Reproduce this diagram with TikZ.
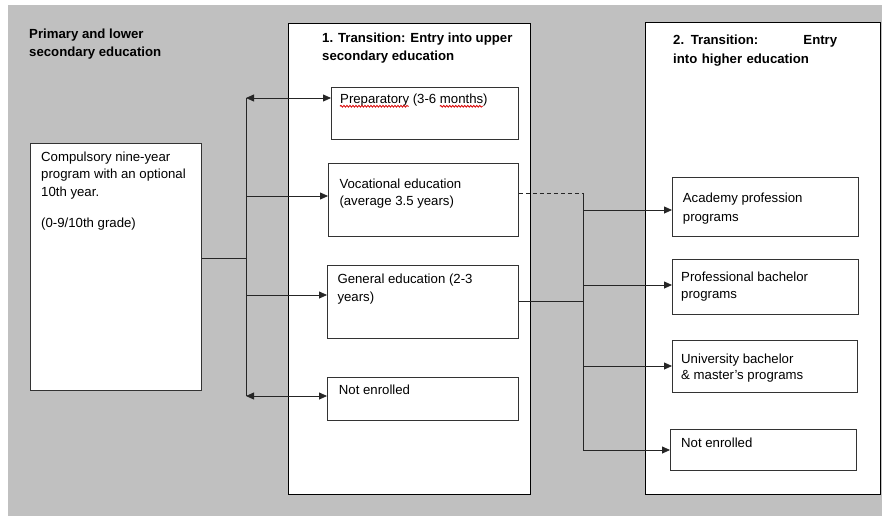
\documentclass[tikz,border=0pt]{standalone}
\usepackage{fontspec}
\setmainfont{Liberation Sans}
\usetikzlibrary{arrows.meta,decorations.pathmorphing}
\definecolor{bggray}{HTML}{C0C0C0}
\newlength\wordA
\newlength\wordB
\newlength\wordC
\newcommand\bodyfont{\fontsize{13.2}{17.5}\selectfont}
\begin{document}
\settowidth\wordA{\bodyfont Preparatory}%
\settowidth\wordB{\bodyfont Preparatory (3-6 months}%
\settowidth\wordC{\bodyfont months}%
\begin{tikzpicture}[x=1pt,y=-1pt,
  frame/.style={draw=black, line width=1pt, fill=white, anchor=north west, inner sep=0pt},
  box/.style={draw=black!80, line width=0.8pt, fill=white, anchor=north west, inner sep=0pt},
  txt/.style={anchor=north west, inner sep=0pt, align=left, font=\bodyfont},
  ttl/.style={anchor=north west, inner sep=0pt, align=left, font=\bfseries\fontsize{13.2}{18.5}\selectfont},
  conn/.style={draw=black!85, line width=0.8pt},
  arr/.style={conn, -{Triangle[length=8pt,width=7pt]}},
  darr/.style={conn, {Triangle[length=8pt,width=7pt]}-{Triangle[length=8pt,width=7pt]}},
  squig/.style={draw=red!85!black, line width=0.8pt, decorate, decoration={snake, amplitude=0.9pt, segment length=3pt}}
]
\useasboundingbox (0,0) rectangle (882,516);
\fill[bggray] (8,5) rectangle (882,516);

% big frames
\node[frame, minimum width=242pt, minimum height=471pt] (mid) at (288,23) {};
\node[frame, minimum width=235pt, minimum height=472pt] (right) at (645,22) {};

% boxes
\node[box, minimum width=171pt, minimum height=247pt] (comp) at (30,143) {};
\node[box, minimum width=187pt, minimum height=52pt] (prep) at (331,87) {};
\node[box, minimum width=190pt, minimum height=73pt] (voc) at (328,163) {};
\node[box, minimum width=191pt, minimum height=73pt] (gen) at (327,265) {};
\node[box, minimum width=191pt, minimum height=43pt] (ne1) at (327,377) {};
\node[box, minimum width=186pt, minimum height=59pt] (acad) at (672,177) {};
\node[box, minimum width=186pt, minimum height=55pt] (prof) at (672,259) {};
\node[box, minimum width=185pt, minimum height=52pt] (univ) at (672,340) {};
\node[box, minimum width=186pt, minimum height=41pt] (ne2) at (670,429) {};

% titles
\node[ttl] (t0) at (29,28.4) {Primary and lower\\secondary education};
\node[ttl] (t1) at (322,32.3) {1. Transition: Entry into upper\\secondary education};
\node[ttl, text width=164pt] (t2) at (673,35) {2. Transition:\hfill Entry\\into higher education};

% texts
\node[txt] (tcomp) at (41,151.5) {Compulsory nine-year\\program with an optional\\10th year.\\[14pt](0-9/10th grade)};
\node[txt] (tprep) at (340,93.5) {Preparatory (3-6 months)};
\node[txt] (tvoc) at (339.3,178.3) {Vocational education\\(average 3.5 years)};
\node[txt] (tgen) at (337.3,274) {General education (2-3\\years)};
\node[txt] (tne1) at (338.7,385) {Not enrolled};
\node[txt, font=\fontsize{13.2}{19}\selectfont] (tacad) at (682.7,192.3) {Academy profession\\programs};
\node[txt] (tprof) at (681,271.7) {Professional bachelor\\programs};
\node[txt, font=\fontsize{13.2}{16}\selectfont] (tuniv) at (681,353.3) {University bachelor\\\& master’s programs};
\node[txt] (tne2) at (681,437.3) {Not enrolled};

% spell-check squiggles
\draw[squig] ([yshift=-3pt]tprep.base west) -- ++(\wordA,0pt);
\draw[squig] ([yshift=-3pt,xshift=\wordB-\wordC]tprep.base west) -- ++(\wordC,0pt);

% left connectors
\coordinate (jL) at (246,258);
\coordinate (tLa) at (246,98);
\coordinate (tLb) at (246,196);
\coordinate (tLc) at (246,295);
\coordinate (tLd) at (246,396);
\draw[conn] (comp.east |- jL) -- (jL);
\draw[conn] (tLa) -- (tLd);
\draw[darr] (tLa) -- (prep.west |- tLa);
\draw[arr] (tLb) -- (voc.west |- tLb);
\draw[arr] (tLc) -- (gen.west |- tLc);
\draw[darr] (tLd) -- (ne1.west |- tLd);

% right connectors
\coordinate (rA) at (583,193);
\coordinate (rB) at (583,210);
\coordinate (rC) at (583,285);
\coordinate (rJ) at (583,301);
\coordinate (rD) at (583,366);
\coordinate (rE) at (583,450);
\draw[conn, dash pattern=on 4pt off 3pt] (voc.east |- rA) -- (rA);
\draw[conn] (rA) -- (rE);
\draw[conn] (gen.east |- rJ) -- (rJ);
\draw[arr] (rB) -- (acad.west |- rB);
\draw[arr] (rC) -- (prof.west |- rC);
\draw[arr] (rD) -- (univ.west |- rD);
\draw[arr] (rE) -- (ne2.west |- rE);
\end{tikzpicture}
\end{document}
